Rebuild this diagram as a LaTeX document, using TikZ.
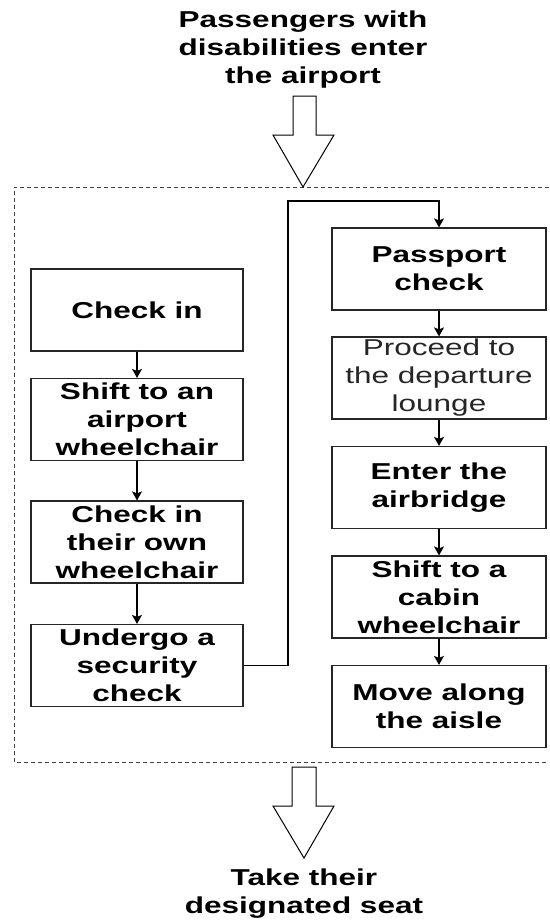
\documentclass[tikz,border=0pt]{standalone}
\usepackage{fontspec}
\setmainfont{Liberation Sans}[FakeStretch=1.37]
\usetikzlibrary{arrows.meta}
\begin{document}
\begin{tikzpicture}[x=1pt,y=-1pt,
  every node/.style={font=\fontsize{23}{28}\selectfont, align=center, inner sep=0pt},
  boxL/.style={draw=black!85, line width=1.2pt, minimum width=212pt, minimum height=82pt, font=\fontsize{23}{28}\selectfont\bfseries},
  boxR/.style={draw=black!85, line width=1.2pt, minimum width=214pt, minimum height=82pt, font=\fontsize{23}{28}\selectfont\bfseries},
  arr/.style={draw=black, line width=1.2pt, -{Stealth[length=9pt,width=10pt,inset=2pt]}},
  conn/.style={draw=black, line width=1.2pt},
  frame/.style={draw=black!75, line width=0.8pt, dash pattern=on 4pt off 3pt},
  blockarrow/.style={draw=black, line width=1pt, fill=white}
]
\useasboundingbox (0,0) rectangle (549,921);

% dashed frame
\draw[frame] (549,187) -- (14,187) -- (14,762) -- (549,762);

% titles
\node[font=\fontsize{23}{28}\selectfont\bfseries] (title) at (303,50) {Passengers with\\disabilities enter\\the airport};
\node[font=\fontsize{23}{28}\selectfont\bfseries] (seat) at (304,894) {Take their\\designated seat};

% block arrows
\draw[blockarrow] (293,96) -- (316,96) -- (316,135) -- (334,135) -- (303,187) -- (273,135) -- (293,135) -- cycle;
\draw[blockarrow] (292,767) -- (316,767) -- (316,806) -- (334,806) -- (304,858) -- (273,806) -- (292,806) -- cycle;

% left column
\node[boxL] (ci) at (137,310) {Check in};
\node[boxL] (sa) at (137,419.5) {Shift to an\\airport\\wheelchair};
\node[boxL] (co) at (137,542) {Check in\\their own\\wheelchair};
\node[boxL] (us) at (137,665.5) {Undergo a\\security\\check};

% right column
\node[boxR] (pc) at (439,269) {Passport\\check};
\node[boxR, font=\fontsize{23}{28}\selectfont, text=black!85] (pd) at (439,378) {Proceed to\\the departure\\lounge};
\node[boxR] (ea) at (439,487.5) {Enter the\\airbridge};
\node[boxR] (sc) at (439,597) {Shift to a\\cabin\\wheelchair};
\node[boxR] (ma) at (439,706.5) {Move along\\the aisle};

% connectors
\draw[arr] (ci) -- (sa);
\draw[arr] (sa) -- (co);
\draw[arr] (co) -- (us);
\coordinate (bend) at (288,201);
\draw[arr] (us.east) -| (bend) -| (pc.north);
\draw[arr] (pc) -- (pd);
\draw[arr] (pd) -- (ea);
\draw[arr] (ea) -- (sc);
\draw[arr] (sc) -- (ma);
\end{tikzpicture}
\end{document}
